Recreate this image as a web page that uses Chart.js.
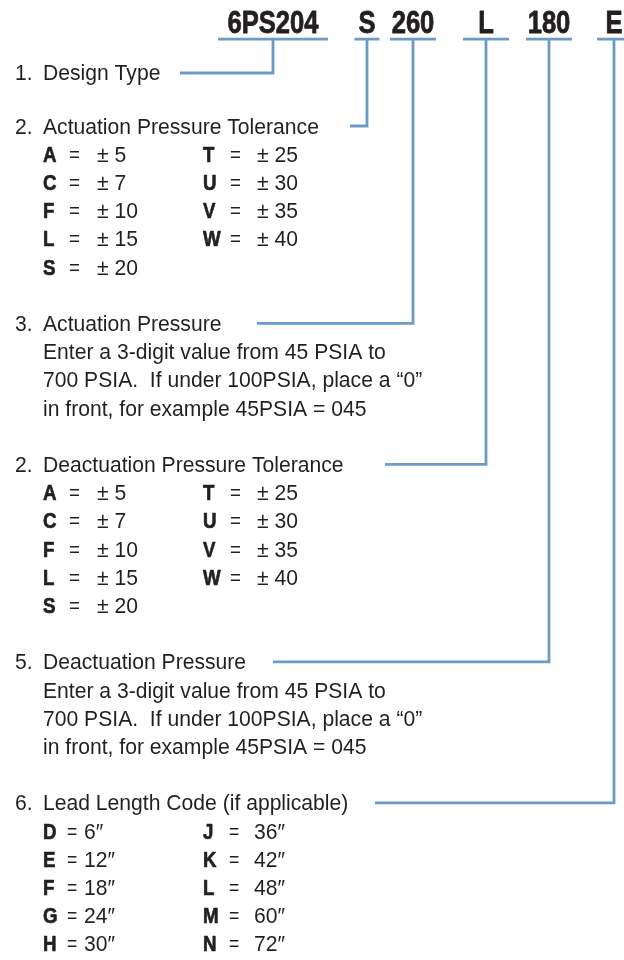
<!DOCTYPE html>
<html>
<head>
<meta charset="utf-8">
<script src="https://cdn.jsdelivr.net/npm/chart.js@4.4.1/dist/chart.umd.min.js"></script>
<style>
  html, body { margin: 0; padding: 0; background: #fff; }
  #wrap { width: 624px; height: 960px; }
</style>
</head>
<body>
<div id="wrap"><canvas id="codeChart" width="624" height="960"></canvas></div>
<script>
// ---- data ----
const codes = ["6PS204", "S", "260", "L", "180", "E"];
const sectionNumbers = ["1.", "2.", "3.", "2.", "5.", "6."];
const sectionTitles = [
  "Design Type",
  "Actuation Pressure Tolerance",
  "Actuation Pressure",
  "Deactuation Pressure Tolerance",
  "Deactuation Pressure",
  "Lead Length Code (if applicable)",
];
const toleranceCodes = ["A", "C", "F", "L", "S", "T", "U", "V", "W"];
const toleranceValues = [5, 7, 10, 15, 20, 25, 30, 35, 40];
const leadCodes = ["D", "E", "F", "G", "H", "J", "K", "L", "M", "N"];
const leadInches = [6, 12, 18, 24, 30, 36, 42, 48, 60, 72];
const pressureNote = [
  "Enter a 3-digit value from 45 PSIA to",
  "700 PSIA.  If under 100PSIA, place a \u201c0\u201d",
  "in front, for example 45PSIA = 045",
];
const sectionBody = ["none", "tolerance", "note", "tolerance", "note", "lead"];

// ---- layout (x in page columns, y in text rows) ----
const sectionRows = [0.12, 2, 9, 14, 21, 26];
const codeX = [273, 367, 413, 486, 549, 614];
const underlineHalf = [55, 12.5, 23, 23, 23, 17];
const leaderEndX = [180, 350, 257, 385, 273, 375];
const headerRow = -1.7;
const underlineRow = -1.08;
const numberX = 15;
const textX = 43;
const tolCols = { letter: [43, 203], eq: [69, 230], value: [97, 257] };
const leadCols = { letter: [43, 203], eq: [67, 229], value: [84, 254] };

const blue = "#6a9bc8";
const ink = "#231f20";
const regular = "22px 'Liberation Sans', Arial, sans-serif";
const bold = "bold 22px 'Liberation Sans', Arial, sans-serif";
const headFont = "bold 32px 'Liberation Sans', Arial, sans-serif";

// underline segments + leader lines, separated by gaps
const underlinePts = [];
const leaderPts = [];
codes.forEach((c, i) => {
  underlinePts.push({ x: codeX[i] - underlineHalf[i], y: underlineRow });
  underlinePts.push({ x: codeX[i] + underlineHalf[i], y: underlineRow });
  underlinePts.push({ x: NaN, y: NaN });
  leaderPts.push({ x: codeX[i], y: underlineRow });
  leaderPts.push({ x: codeX[i], y: sectionRows[i] });
  leaderPts.push({ x: leaderEndX[i], y: sectionRows[i] });
  leaderPts.push({ x: NaN, y: NaN });
});

function drawText(ctx, str, px, rowPx, font, sx, align, heavy) {
  ctx.save();
  ctx.font = font;
  const cap = ctx.measureText("H").actualBoundingBoxAscent;
  ctx.translate(px, rowPx + cap / 2);
  ctx.scale(sx, 1);
  ctx.textAlign = align || "left";
  ctx.textBaseline = "alphabetic";
  ctx.fillStyle = ink;
  ctx.fillText(str, 0, 0);
  if (heavy) {
    // univers bold is heavier than liberation bold
    ctx.strokeStyle = ink;
    ctx.lineWidth = heavy;
    ctx.lineJoin = "round";
    ctx.strokeText(str, 0, 0);
  }
  ctx.restore();
}

const textPlugin = {
  id: "codeText",
  afterDatasetsDraw(chart) {
    const ctx = chart.ctx;
    const xs = chart.scales.x;
    const ys = chart.scales.y;
    const X = (v) => xs.getPixelForValue(v);
    const Y = (v) => ys.getPixelForValue(v);

    codes.forEach((c, i) => {
      drawText(ctx, c, X(codeX[i]), Y(headerRow), headFont, 0.8, "center", 0.8);
    });

    sectionTitles.forEach((t, i) => {
      const r = sectionRows[i];
      drawText(ctx, sectionNumbers[i], X(numberX), Y(r), regular, 0.96);
      drawText(ctx, t, X(textX), Y(r), regular, 0.96);

      if (sectionBody[i] === "tolerance") {
        toleranceCodes.forEach((code, k) => {
          const col = Math.floor(k / 5);
          const row = r + 1 + (k % 5);
          drawText(ctx, code, X(tolCols.letter[col]), Y(row), bold, 0.85, "left", 0.7);
          drawText(ctx, "=", X(tolCols.eq[col]), Y(row), regular, 0.85);
          drawText(ctx, "\u00b1 " + toleranceValues[k], X(tolCols.value[col]), Y(row), regular, 0.96);
        });
      } else if (sectionBody[i] === "note") {
        pressureNote.forEach((line, k) => {
          drawText(ctx, line, X(textX), Y(r + 1 + k), regular, 0.96);
        });
      } else if (sectionBody[i] === "lead") {
        leadCodes.forEach((code, k) => {
          const col = Math.floor(k / 5);
          const row = r + 1 + (k % 5);
          drawText(ctx, code, X(leadCols.letter[col]), Y(row), bold, 0.85, "left", 0.7);
          drawText(ctx, "=", X(leadCols.eq[col]), Y(row), regular, 0.8);
          drawText(ctx, leadInches[k] + "\u2033", X(leadCols.value[col]), Y(row), regular, 0.96);
        });
      }
    });
  },
};

// row r sits at pixel 126 + (r - 2) * 28.2
const rowPitch = 28.2;
const yMin = 2 - 126 / rowPitch;
const yMax = yMin + 960 / rowPitch;

new Chart(document.getElementById("codeChart").getContext("2d"), {
  type: "scatter",
  data: {
    datasets: [
      { label: "underlines", data: underlinePts },
      { label: "leaders", data: leaderPts },
    ].map((d) => ({
      ...d,
      showLine: true,
      spanGaps: false,
      borderColor: blue,
      backgroundColor: blue,
      borderWidth: 2.8,
      pointRadius: 0,
      tension: 0,
      borderJoinStyle: "miter",
    })),
  },
  options: {
    responsive: false,
    animation: false,
    layout: { padding: 0 },
    plugins: { legend: { display: false }, tooltip: { enabled: false } },
    scales: {
      x: { type: "linear", display: false, min: 0, max: 624 },
      y: { type: "linear", display: false, reverse: true, min: yMin, max: yMax },
    },
  },
  plugins: [textPlugin],
});
</script>
</body>
</html>
